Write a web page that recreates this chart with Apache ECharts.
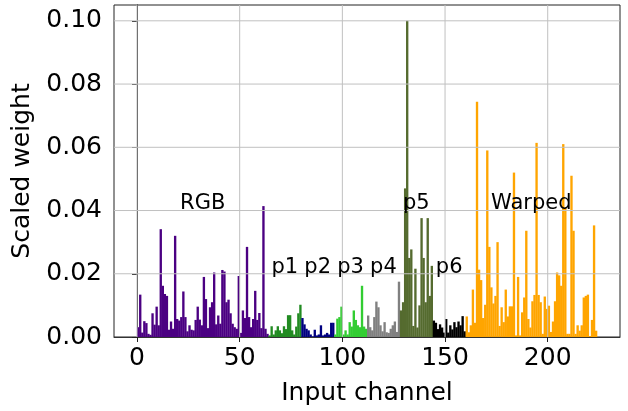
<!DOCTYPE html>
<html>
<head>
<meta charset="utf-8">
<script src="https://cdn.jsdelivr.net/npm/echarts@6/dist/echarts.min.js"></script>
<style>
html, body { margin: 0; padding: 0; background: #fff; }
#main { width: 628px; height: 411px; }
</style>
</head>
<body>
<div id="main"></div>
<script>
// scaled weight per input channel, one array per channel group
var rgb = [0.0031, 0.0134, 0.0014, 0.005, 0.0044, 0.001, 0.0007, 0.0075, 0.0039, 0.0096,
    0.0037, 0.0341, 0.0162, 0.0136, 0.013, 0.0023, 0.0049, 0.0026, 0.032, 0.0057,
    0.0052, 0.0063, 0.0144, 0.0063, 0.0018, 0.0037, 0.0023, 0.0021, 0.0054, 0.0096,
    0.0055, 0.0037, 0.019, 0.012, 0.0028, 0.0094, 0.011, 0.0204, 0.004, 0.0068,
    0.0042, 0.0212, 0.0207, 0.011, 0.0118, 0.0075, 0.0042, 0.0031, 0.0026, 0.0193,
    0.0013, 0.0084, 0.006, 0.0285, 0.0063, 0.0031, 0.0057, 0.0146, 0.0054, 0.0076,
    0.0028, 0.0414, 0.0026, 0.001];
var p1 = [0.0005, 0.0034, 0.0008, 0.0021, 0.0034, 0.0021, 0.0012, 0.0034, 0.0025, 0.0069,
    0.0069, 0.0021, 0.0008, 0.0033, 0.0075, 0.0102];
var p2 = [0.006, 0.004, 0.0026, 0.0021, 0.0008, 0.0002, 0.0023, 0.0005, 0.0008, 0.0037,
    0.0005, 0.0008, 0.0013, 0.0008, 0.0045, 0.0045];
var p3 = [0.0008, 0.0058, 0.0063, 0.0096, 0.0008, 0.0021, 0.0008, 0.0047, 0.0033, 0.0084,
    0.0054, 0.0037, 0.0031, 0.0162, 0.0033, 0.0026];
var p4 = [0.0068, 0.0031, 0.0021, 0.0063, 0.0112, 0.0094, 0.0037, 0.0018, 0.0047, 0.0015,
    0.0013, 0.0026, 0.0037, 0.0049, 0.0016, 0.0175];
var p5 = [0.0084, 0.011, 0.047, 0.1, 0.025, 0.0277, 0.0035, 0.0216, 0.003, 0.01,
    0.0376, 0.025, 0.011, 0.0376, 0.013, 0.0225];
var p6 = [0.0052, 0.0045, 0.0025, 0.004, 0.003, 0.0014, 0.0057, 0.0014, 0.0037, 0.0024,
    0.0047, 0.0031, 0.0049, 0.0037, 0.0066, 0.0018];
var warped = [0.0065, 0.0015, 0.0037, 0.015, 0.0045, 0.0744, 0.0213, 0.018, 0.006, 0.0102,
    0.059, 0.0285, 0.0157, 0.0106, 0.013, 0.03, 0.0035, 0.0094, 0.0047, 0.015,
    0.0065, 0.0097, 0.0097, 0.052, 0.0005, 0.019, 0.0005, 0.0078, 0.0125, 0.0336,
    0.0057, 0.003, 0.0113, 0.0133, 0.0614, 0.0133, 0.011, 0.001, 0.0128, 0.0089,
    0.0099, 0.0016, 0.0049, 0.0113, 0.0204, 0.0195, 0.0162, 0.061, 0.041, 0.001,
    0.001, 0.051, 0.0336, 0.001, 0.0037, 0.002, 0.0037, 0.0125, 0.013, 0.0134,
    0.0003, 0.0054, 0.0353, 0.002];

var groupNames = ['RGB', 'p1', 'p2', 'p3', 'p4', 'p5', 'p6', 'Warped'];
var groupColors = ['#4b0082', '#228b22', '#000080', '#32cd32', '#808080', '#556b2f', '#000000', '#ffa500'];
var labelY = [0.04, 0.02, 0.02, 0.02, 0.02, 0.04, 0.02, 0.04];
var xTicks = [0, 50, 100, 150, 200];
var yTicks = [0, 0.02, 0.04, 0.06, 0.08, 0.1];

var font = 'DejaVu Sans';
var xMin = -11.2, xMax = 235.2;
var yMax = 0.105;

function renderBar(params, api) {
    var k = api.value(0);
    var top = api.coord([k, api.value(1)]);
    var bot = api.coord([k + 1, 0]);
    return {
        type: 'rect',
        // small overlap so neighbouring bars don't show seams
        shape: { x: top[0], y: top[1], width: bot[0] - top[0] + 0.3, height: bot[1] - top[1] },
        style: { fill: api.visual('color') }
    };
}

// grid lines drawn over the bars, like matplotlib's default
function renderGridLine(params, api) {
    var v = api.value(1);
    var a, b;
    if (api.value(0) === 0) {          // vertical line at x = v
        a = api.coord([v, 0]);
        b = api.coord([v, yMax]);
    } else {                           // horizontal line at y = v
        a = api.coord([xMin, v]);
        b = api.coord([xMax, v]);
    }
    return {
        type: 'line',
        shape: { x1: a[0], y1: a[1], x2: b[0], y2: b[1] },
        style: { stroke: '#c0c0c0', lineWidth: 1 }
    };
}

var groups = [rgb, p1, p2, p3, p4, p5, p6, warped];
var labelData = [];
var series = [];
var start = 0;
groups.forEach(function (vals, g) {
    series.push({
        type: 'custom',
        name: groupNames[g],
        renderItem: renderBar,
        data: vals.map(function (v, i) { return [start + i, v]; }),
        itemStyle: { color: groupColors[g] },
        z: 2
    });
    labelData.push([start + vals.length / 2, labelY[g], groupNames[g]]);
    start += vals.length;
});

series.push({
    type: 'custom',
    name: 'grid',
    renderItem: renderGridLine,
    data: xTicks.map(function (t) { return [0, t]; })
        .concat(yTicks.slice(1).map(function (t) { return [1, t]; })),
    silent: true,
    z: 3
});

series.push({
    type: 'custom',
    name: 'labels',
    data: labelData,
    silent: true,
    z: 4,
    renderItem: function (params, api) {
        var p = api.coord([api.value(0), api.value(1)]);
        return {
            type: 'text',
            x: p[0],
            y: p[1] + 4,
            style: {
                text: labelData[params.dataIndex][2],
                fontSize: 21,
                fontFamily: font,
                fill: '#000',
                align: 'center',
                verticalAlign: 'bottom'
            }
        };
    }
});

var myChart = echarts.init(document.getElementById('main'));
myChart.setOption({
    animation: false,
    backgroundColor: '#fff',
    grid: {
        left: 114, right: 8, top: 5, bottom: 71,
        show: true, borderColor: '#222', borderWidth: 1
    },
    xAxis: {
        type: 'value',
        min: xMin,
        max: xMax,
        name: 'Input channel',
        nameLocation: 'middle',
        nameGap: 44,
        nameTextStyle: { fontSize: 25, fontFamily: font, color: '#000' },
        axisLine: { show: true, onZero: false, lineStyle: { color: '#333', width: 1 } },
        axisTick: { show: true, length: 5, customValues: xTicks, lineStyle: { color: '#222' } },
        axisLabel: { customValues: xTicks, fontSize: 25, fontFamily: font, color: '#000', margin: 9 },
        splitLine: { show: false }
    },
    yAxis: {
        type: 'value',
        min: 0,
        max: yMax,
        interval: 0.02,
        name: 'Scaled weight',
        nameLocation: 'middle',
        nameGap: 79,
        nameTextStyle: { fontSize: 25, fontFamily: font, color: '#000' },
        axisLine: { show: true, lineStyle: { color: '#222', width: 1 } },
        axisTick: { show: true, length: 5, customValues: yTicks, lineStyle: { color: '#222' } },
        axisLabel: {
            customValues: yTicks,
            fontSize: 25, fontFamily: font, color: '#000', margin: 12,
            formatter: function (v) { return v.toFixed(2); }
        },
        splitLine: { show: false }
    },
    series: series
});
</script>
</body>
</html>
